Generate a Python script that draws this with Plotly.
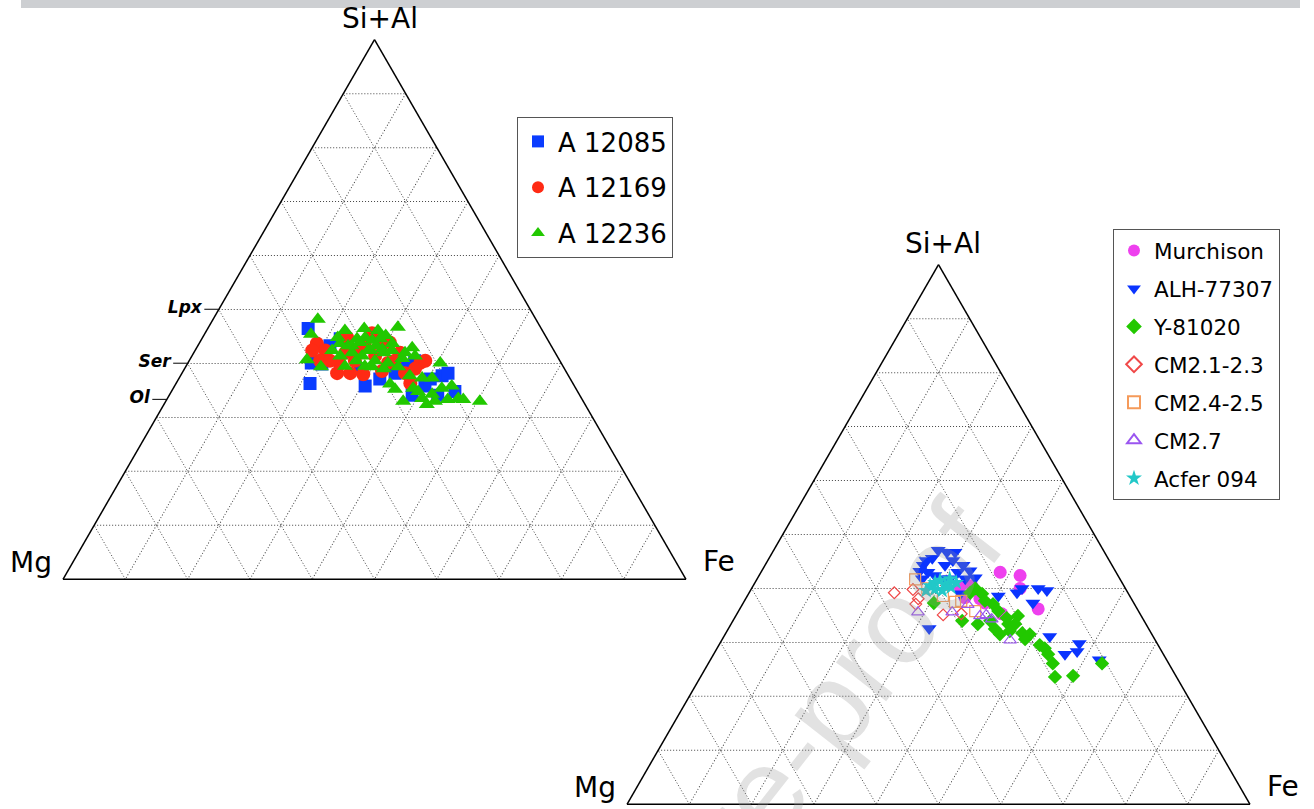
import numpy as np
import plotly.graph_objects as go

# ---------------- data (ternary fractions: Si+Al, Fe; Mg = remainder) ----------------
# Left diagram
a12085_sial = [0.465, 0.401, 0.363, 0.358, 0.377, 0.371, 0.446, 0.341, 0.341, 0.405, 0.399, 0.382, 0.433, 0.382, 0.358,
               0.424, 0.395, 0.390, 0.371, 0.348]
a12085_fe   = [0.161, 0.198, 0.215, 0.306, 0.420, 0.323, 0.222, 0.390, 0.431, 0.362, 0.216, 0.427, 0.212, 0.342, 0.402,
               0.249, 0.351, 0.282, 0.404, 0.455]

a12169_sial = [0.437, 0.424, 0.382, 0.380, 0.456, 0.439, 0.401, 0.363, 0.386, 0.448, 0.399, 0.405, 0.405, 0.420, 0.433,
               0.401, 0.382, 0.405, 0.424, 0.405, 0.420, 0.414, 0.405, 0.382, 0.424, 0.439, 0.390]
a12169_fe   = [0.189, 0.209, 0.249, 0.292, 0.268, 0.305, 0.373, 0.376, 0.319, 0.232, 0.245, 0.266, 0.210, 0.331, 0.268,
               0.321, 0.270, 0.379, 0.188, 0.226, 0.243, 0.294, 0.330, 0.358, 0.265, 0.289, 0.370]

a12236_sial = [0.482, 0.454, 0.407, 0.394, 0.448, 0.424, 0.433, 0.446, 0.448, 0.443, 0.446, 0.437, 0.467, 0.414, 0.405,
               0.401, 0.409, 0.429, 0.414, 0.401, 0.395, 0.395, 0.362, 0.352, 0.377, 0.373, 0.373, 0.354, 0.354, 0.358,
               0.335, 0.343, 0.330, 0.335, 0.333, 0.330, 0.330, 0.324, 0.427, 0.420, 0.420, 0.424, 0.414, 0.348, 0.333,
               0.461, 0.433, 0.439, 0.424, 0.433, 0.420, 0.424, 0.405, 0.394, 0.390, 0.394, 0.437, 0.465, 0.461, 0.452]
a12236_fe   = [0.168, 0.171, 0.188, 0.217, 0.217, 0.220, 0.241, 0.249, 0.261, 0.275, 0.286, 0.310, 0.304, 0.273, 0.298,
               0.321, 0.340, 0.346, 0.358, 0.405, 0.255, 0.287, 0.344, 0.357, 0.368, 0.390, 0.406, 0.385, 0.431, 0.445,
               0.409, 0.421, 0.432, 0.467, 0.476, 0.504, 0.381, 0.422, 0.299, 0.339, 0.254, 0.281, 0.238, 0.396, 0.451,
               0.222, 0.247, 0.257, 0.278, 0.286, 0.305, 0.316, 0.268, 0.299, 0.320, 0.341, 0.226, 0.251, 0.275, 0.292]

# Right diagram
murchison_sial = [0.430, 0.424, 0.400, 0.362, 0.403, 0.405, 0.373, 0.353, 0.381, 0.383]
murchison_fe   = [0.384, 0.419, 0.431, 0.479, 0.333, 0.351, 0.388, 0.425, 0.376, 0.351]

alh77307_sial = [0.471, 0.467, 0.456, 0.452, 0.443, 0.443, 0.432, 0.433, 0.430, 0.420, 0.424, 0.430, 0.418, 0.418, 0.386,
                 0.392, 0.400, 0.400, 0.396, 0.373, 0.326, 0.311, 0.278, 0.283, 0.298, 0.268, 0.390, 0.443, 0.418,
                 0.452, 0.467, 0.418]
alh77307_fe   = [0.264, 0.280, 0.262, 0.297, 0.254, 0.318, 0.254, 0.334, 0.268, 0.349, 0.282, 0.316, 0.265, 0.297, 0.403,
                 0.430, 0.434, 0.460, 0.476, 0.465, 0.322, 0.523, 0.564, 0.581, 0.577, 0.624, 0.340, 0.289, 0.309,
                 0.254, 0.293, 0.334]

y81020_sial = [0.400, 0.390, 0.392, 0.373, 0.340, 0.371, 0.358, 0.334, 0.325, 0.315, 0.334, 0.349, 0.334, 0.317, 0.315,
               0.306, 0.289, 0.278, 0.261, 0.236, 0.238, 0.261, 0.345, 0.321, 0.340, 0.377, 0.295]
y81020_fe   = [0.359, 0.375, 0.355, 0.306, 0.368, 0.402, 0.417, 0.396, 0.428, 0.441, 0.445, 0.453, 0.456, 0.476, 0.489,
               0.486, 0.526, 0.537, 0.553, 0.569, 0.597, 0.632, 0.437, 0.454, 0.413, 0.386, 0.515]

cm21_sial = [0.392, 0.398, 0.381, 0.371, 0.351, 0.353]
cm21_fe   = [0.233, 0.260, 0.277, 0.278, 0.332, 0.360]

cm24_sial = [0.417, 0.400, 0.386, 0.375, 0.377, 0.358]
cm24_fe   = [0.254, 0.282, 0.314, 0.339, 0.348, 0.380]

cm27_sial = [0.356, 0.356, 0.370, 0.349, 0.351, 0.343, 0.304]
cm27_fe   = [0.289, 0.344, 0.362, 0.392, 0.401, 0.414, 0.463]

acfer_sial = [0.405, 0.411, 0.415, 0.407, 0.418, 0.396, 0.398, 0.402, 0.411, 0.396]
acfer_fe   = [0.284, 0.289, 0.295, 0.307, 0.309, 0.308, 0.295, 0.319, 0.323, 0.282]

# mineral reference ticks on the Si+Al axis of the left diagram
mineral_ticks = [0.333, 0.4, 0.5]
mineral_labels = ["Ol", "Ser", "Lpx"]

# ---------------- figure ----------------
W, H = 1314, 809
S3 = np.sqrt(3)
FONT = "DejaVu Sans"

left_dom = dict(x=[63 / W, 686 / W], y=[1 - 582 / H, 1 - 37 / H])
right_dom = dict(x=[627 / W, 1250 / W], y=[1 - 807 / H, 1 - 262 / H])


def tri_geom(dom):
    wmax = (dom["x"][1] - dom["x"][0]) * W
    hmax = (dom["y"][1] - dom["y"][0]) * H
    if wmax * S3 / 2 > hmax:
        h = hmax
        w = h * 2 / S3
    else:
        w = wmax
        h = w * S3 / 2
    cx = W * (dom["x"][0] + dom["x"][1]) / 2
    cy = H * (1 - (dom["y"][0] + dom["y"][1]) / 2)
    return dict(left=cx - w / 2, right=cx + w / 2, top=cy - h / 2, bottom=cy + h / 2, cx=cx)


def trace(sial, fe, name, subplot, legend, symbol, color, size, open_=False):
    sial = np.array(sial)
    fe = np.array(fe)
    mg = 1 - sial - fe
    marker = dict(symbol=symbol, size=size)
    if open_:
        marker.update(color=color, line=dict(color=color, width=1.2))
    else:
        marker.update(color=color, line=dict(width=0))
    return go.Scatterternary(a=sial, b=mg, c=fe, mode="markers", name=name, subplot=subplot,
                             legend=legend, legendgroup=name, marker=marker, hoverinfo="skip")


fig = go.Figure()
fig.add_trace(trace(a12085_sial, a12085_fe, "A 12085", "ternary", "legend", "square", "#0a3cff", 13))
fig.add_trace(trace(a12169_sial, a12169_fe, "A 12169", "ternary", "legend", "circle", "#ff2a14", 14))
fig.add_trace(trace(a12236_sial, a12236_fe, "A 12236", "ternary", "legend", "triangle-up", "#22c800", 14))

fig.add_trace(trace(murchison_sial, murchison_fe, "Murchison", "ternary2", "legend2", "circle", "#ee40ee", 13))
fig.add_trace(trace(alh77307_sial, alh77307_fe, "ALH-77307", "ternary2", "legend2", "triangle-down", "#0a34ff", 13))
fig.add_trace(trace(y81020_sial, y81020_fe, "Y-81020", "ternary2", "legend2", "diamond", "#22c800", 11))
fig.add_trace(trace(cm21_sial, cm21_fe, "CM2.1-2.3", "ternary2", "legend2", "diamond-open", "#f04848", 9, open_=True))
fig.add_trace(trace(cm24_sial, cm24_fe, "CM2.4-2.5", "ternary2", "legend2", "square-open", "#f59a5a", 11, open_=True))
fig.add_trace(trace(cm27_sial, cm27_fe, "CM2.7", "ternary2", "legend2", "triangle-up-open", "#9a55f0", 11, open_=True))
fig.add_trace(trace(acfer_sial, acfer_fe, "Acfer 094", "ternary2", "legend2", "star", "#22c8c8", 12))

# empty trace for the overlay subplot carrying the mineral ticks
fig.add_trace(go.Scatterternary(a=[], b=[], c=[], subplot="ternary3", showlegend=False, hoverinfo="skip"))


def grid_axis():
    return dict(showgrid=True, gridcolor="#444444", griddash="1px,2px", gridwidth=1,
                tickmode="linear", tick0=0, dtick=0.1, showticklabels=False, ticks="",
                showline=True, linecolor="black", linewidth=1.5, title=dict(text=""), min=0)


def bare_axis():
    return dict(showgrid=False, showticklabels=False, ticks="", showline=False, title=dict(text=""), min=0)


fig.update_layout(
    width=W, height=H, margin=dict(l=0, r=0, t=0, b=0),
    paper_bgcolor="white", plot_bgcolor="white",
    font=dict(family=FONT, color="black"),
    ternary=dict(domain=left_dom, bgcolor="white", sum=1,
                 aaxis=grid_axis(), baxis=grid_axis(), caxis=grid_axis()),
    ternary2=dict(domain=right_dom, bgcolor="white", sum=1,
                  aaxis=grid_axis(), baxis=grid_axis(), caxis=grid_axis()),
    ternary3=dict(domain=left_dom, bgcolor="rgba(0,0,0,0)", sum=1,
                  aaxis=dict(showgrid=False, showline=False, tickmode="array",
                             tickvals=mineral_ticks, ticktext=mineral_labels,
                             ticks="outside", ticklen=14, tickwidth=1.2, tickcolor="black",
                             showticklabels=True,
                             tickfont=dict(family=FONT, size=17, weight="bold", style="italic", color="black"),
                             title=dict(text=""), min=0),
                  baxis=bare_axis(), caxis=bare_axis()),
    legend=dict(x=517 / W, y=1 - 117 / H, xanchor="left", yanchor="top",
                font=dict(family=FONT, size=26, color="black"),
                bordercolor="#555555", borderwidth=1, bgcolor="white",
                tracegroupgap=9, itemsizing="constant"),
    legend2=dict(x=1113 / W, y=1 - 229 / H, xanchor="left", yanchor="top",
                 font=dict(family=FONT, size=21.5, color="black"),
                 bordercolor="#555555", borderwidth=1, bgcolor="white",
                 tracegroupgap=7, itemsizing="constant"),
)

# vertex labels
annots = []
for dom in (left_dom, right_dom):
    g = tri_geom(dom)
    labels = [("Si+Al", g["cx"] + 5, g["top"] - 21),
              ("Mg", g["left"] - 32, g["bottom"] - 17),
              ("Fe", g["right"] + 33, g["bottom"] - 18)]
    for txt, px, py in labels:
        annots.append(dict(text=txt, x=px / W, y=1 - py / H, xref="paper", yref="paper",
                           xanchor="center", yanchor="middle", showarrow=False,
                           font=dict(family=FONT, size=28, color="black")))

# watermark
annots.append(dict(text="Journal Pre-proof", x=690 / W, y=1 - 884 / H, xref="paper", yref="paper",
                   xanchor="center", yanchor="middle", showarrow=False, textangle=-52,
                   font=dict(family="Liberation Sans", size=120, color="rgba(150,150,150,0.28)")))
fig.update_layout(annotations=annots)

# header bar (page decoration)
fig.add_shape(type="rect", xref="paper", yref="paper", x0=21 / W, x1=1300 / W, y0=1 - 8 / H, y1=1,
              fillcolor="#cdcfd2", line=dict(width=0), layer="above")

fig.write_html("out.html")
